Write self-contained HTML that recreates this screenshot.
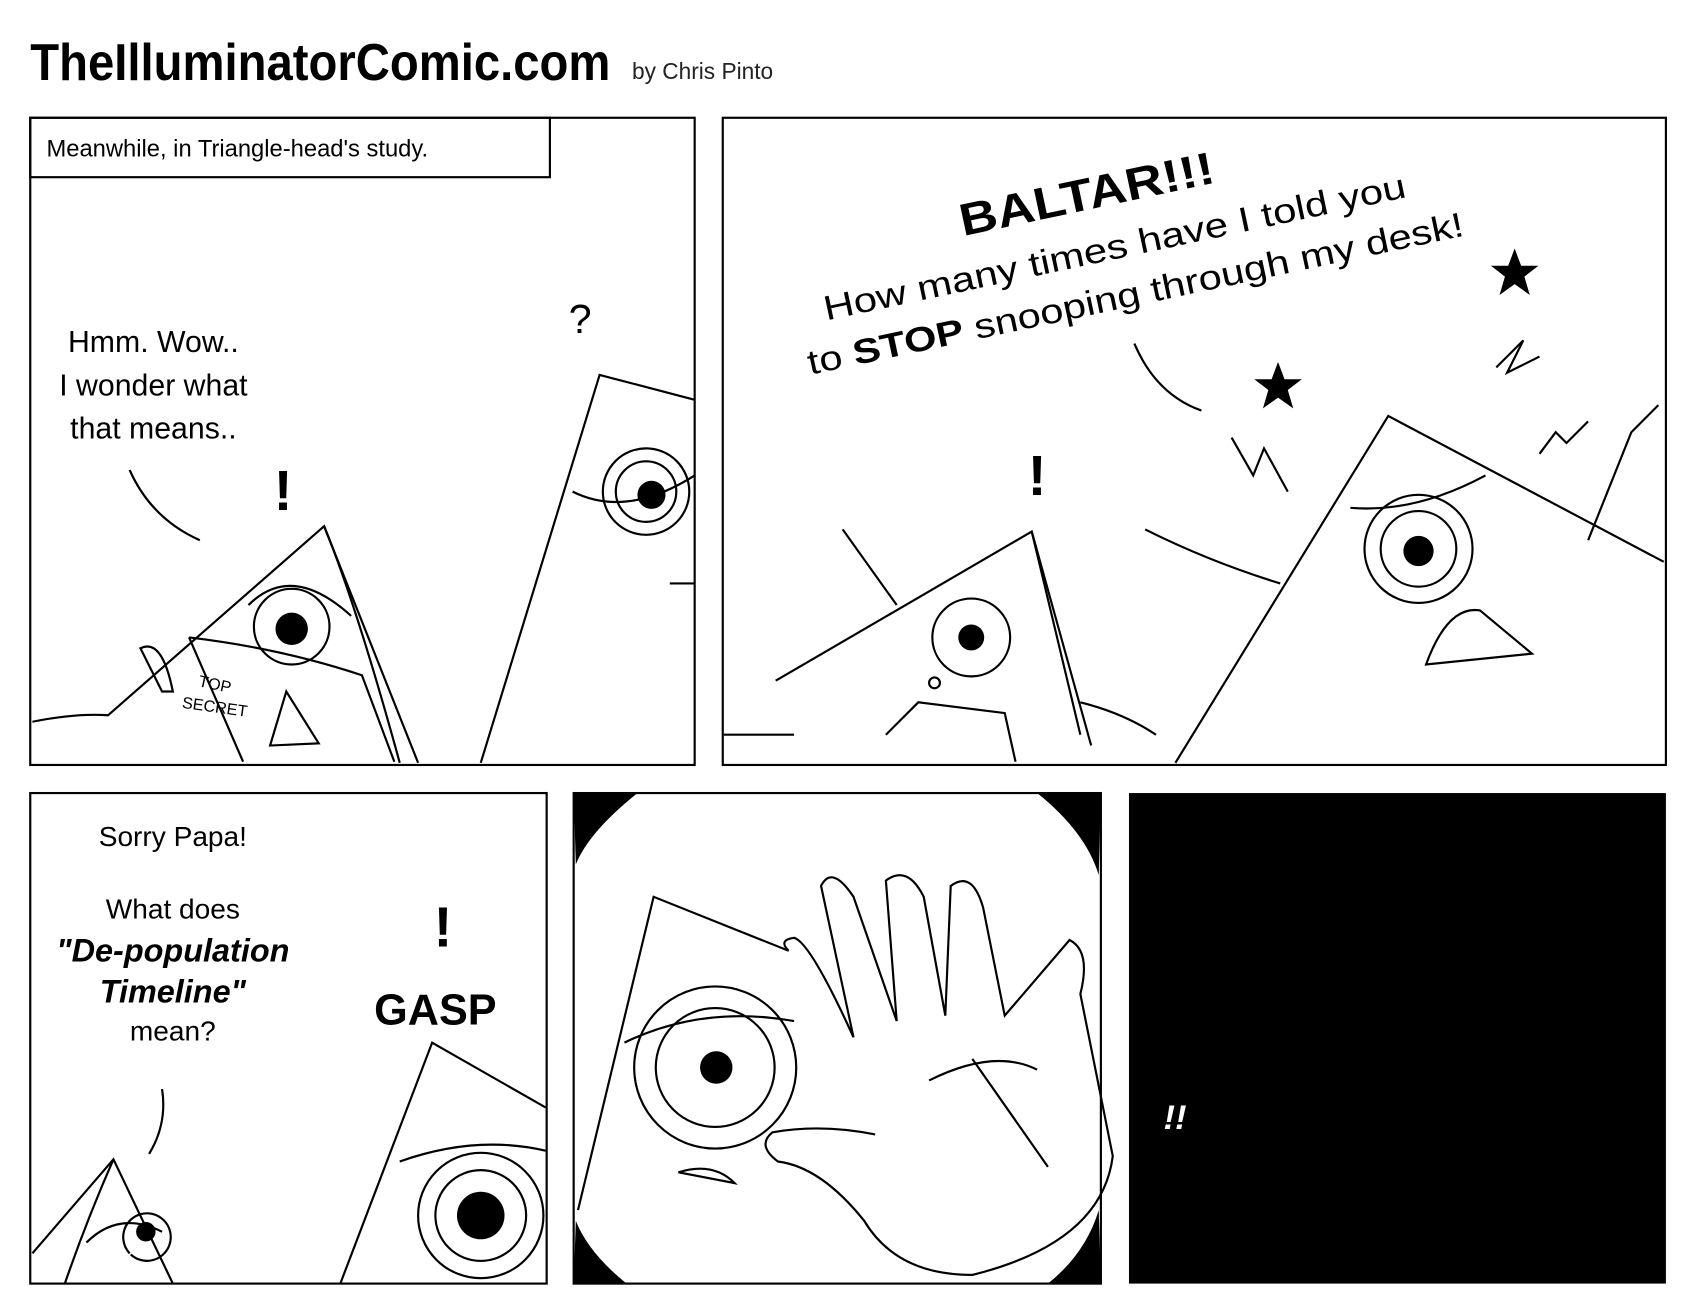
<!DOCTYPE html>
<html><head><meta charset="utf-8"><style>
html,body{margin:0;padding:0;background:#fff;width:1694px;height:1316px;overflow:hidden}
svg{display:block}
text{font-family:"Liberation Sans",sans-serif}
</style></head><body>
<svg width="1694" height="1316" viewBox="0 0 1568 1218" preserveAspectRatio="none" xmlns="http://www.w3.org/2000/svg">
<rect width="1568" height="1218" fill="#fff"/>
<text x="28" y="74" font-size="48" font-weight="bold" textLength="537" lengthAdjust="spacingAndGlyphs" fill="#000">TheIlluminatorComic.com</text>
<text x="585" y="73" font-size="21" fill="#222">by Chris Pinto</text>

<g fill="none" stroke="#000" stroke-width="2">
<rect x="28" y="109" width="615" height="599"/>
<rect x="28" y="109" width="481" height="55"/>
<path d="M120 435 Q140 480 185 500"/>
<path d="M30 668 Q70 660 100 662 L300 487 L387 706"/>
<path d="M300 487 Q330 560 370 706"/>
<path d="M445 706 L555 347 L643 370"/>
<path d="M530 455 Q580 480 643 440"/>
<circle cx="270" cy="580" r="35"/>
<circle cx="598" cy="455" r="40"/><circle cx="598" cy="455" r="28"/>
<path d="M230 560 Q270 520 325 570"/>
<path d="M175 590 L225 705 M175 590 Q260 600 335 625 L365 705"/>
<path d="M265 640 L250 690 L295 688 Z"/>
<path d="M620 540 L643 540"/>
<path d="M130 600 Q150 590 160 640 L150 640 Z"/>
<rect x="669" y="109" width="873" height="599"/>
<path d="M1050 318 Q1070 365 1112 380"/>
<path d="M1088 706 L1285 385 L1540 520"/>
<path d="M718 630 L955 492 L1000 680"/>
<path d="M955 492 Q985 600 1010 690"/>
<path d="M670 680 L735 680"/>
<circle cx="899" cy="590" r="36"/>
<circle cx="1313" cy="508" r="50"/><circle cx="1313" cy="508" r="35"/>
<path d="M1250 470 Q1310 475 1375 440"/>
<path d="M1320 615 Q1340 560 1370 565 L1418 605 Z"/>
<path d="M1060 490 Q1120 520 1185 540"/>
<path d="M1470 500 L1510 400 L1535 375"/>
<path d="M780 490 L830 560"/>
<path d="M820 680 L850 650 L930 660 L940 705"/>
<path d="M1000 650 Q1040 660 1070 680"/>
<path d="M1140 405 L1160 440 L1170 415 L1192 455"/>
<path d="M1385 340 L1410 315 L1395 345 L1425 330"/>
<path d="M1425 420 L1440 400 L1450 410 L1470 390"/>
<circle cx="865" cy="632" r="5"/>
<rect x="28" y="734" width="478" height="454"/>
<path d="M150 1008 Q155 1040 138 1068"/>
<path d="M30 1160 L105 1073 L160 1188"/>
<path d="M105 1073 Q80 1130 60 1188"/>
<path d="M80 1150 Q110 1120 150 1140 M120 1160 A22 22 0 1 1 121 1161"/>
<path d="M315 1188 L400 965 L505 1025"/>
<path d="M370 1075 Q440 1050 505 1065"/>
<circle cx="445" cy="1125" r="58"/><circle cx="445" cy="1125" r="42"/>
<rect x="531" y="734" width="488" height="454"/>
<path d="M535 1120 L605 830 L730 880"/>
<circle cx="662" cy="988" r="75"/><circle cx="662" cy="988" r="55"/>
<path d="M578 965 Q650 930 735 945"/>
<path d="M628 1085 Q660 1075 680 1095 Z"/>
<path d="M730 880 Q720 870 735 868 Q750 872 790 960 L760 820 Q770 800 790 830 L830 945 L820 815 Q840 800 855 830 L875 940 L880 820 Q900 805 910 840 L930 940 L990 870 Q1010 880 1000 920 L1030 1070 Q1020 1150 900 1180 Q830 1180 800 1130 Q760 1080 720 1075 Q700 1060 715 1048 Q760 1040 810 1050"/>
<path d="M860 1000 Q920 970 960 990 M900 980 L970 1080"/>
</g>
<g fill="#000">
<path d="M531 734 L590 734 Q545 770 533 800 Z"/>
<path d="M1019 734 L960 734 Q1005 770 1017 810 Z"/>
<path d="M531 1188 L580 1188 Q545 1160 533 1130 Z"/>
<path d="M1019 1188 L970 1188 Q1005 1160 1017 1120 Z"/>
<circle cx="270" cy="582" r="15"/><circle cx="603" cy="458" r="13"/>
<circle cx="899" cy="590" r="12"/><circle cx="1313" cy="510" r="14"/>
<circle cx="135" cy="1140" r="9"/><circle cx="445" cy="1125" r="22"/>
<circle cx="663" cy="988" r="15"/>
<rect x="1045" y="734" width="497" height="454"/>
<path d="M1183 335 l6 16 h16 l-13 10 5 17 -14 -10 -14 10 5 -17 -13 -10 h16z"/>
<path d="M1402 230 l6 16 h16 l-13 10 5 17 -14 -10 -14 10 5 -17 -13 -10 h16z"/>
</g>
<text x="43" y="145" font-size="22" fill="#000">Meanwhile, in Triangle-head's study.</text>
<g font-size="28" fill="#000" text-anchor="middle">
<text x="142" y="326">Hmm. Wow..</text>
<text x="142" y="366">I wonder what</text>
<text x="142" y="406">that means..</text>
<text x="537" y="308" font-size="38">?</text>
<text x="262" y="472" font-size="52" font-weight="bold">!</text>
<text x="960" y="458" font-size="52" font-weight="bold">!</text>
<text x="410" y="876" font-size="52" font-weight="bold">!</text>
</g>
<g transform="translate(0,-25) rotate(-12 1010 200)" fill="#000" font-size="32">
<text x="885" y="218" font-size="42" font-weight="bold" textLength="240" lengthAdjust="spacingAndGlyphs">BALTAR!!!</text>
<text x="745" y="268" textLength="550" lengthAdjust="spacingAndGlyphs">How many times have I told you</text>
<text x="720" y="314" textLength="620" lengthAdjust="spacingAndGlyphs">to <tspan font-weight="bold">STOP</tspan> snooping through my desk!</text>
</g>
<g fill="#000" font-size="26" text-anchor="middle">
<text x="160" y="783">Sorry Papa!</text>
<text x="160" y="850">What does</text>
<text x="160" y="890" font-size="30" font-weight="bold" font-style="italic">"De-population</text>
<text x="160" y="928" font-size="30" font-weight="bold" font-style="italic">Timeline"</text>
<text x="160" y="963">mean?</text>
<text x="403" y="948" font-size="40" font-weight="bold">GASP</text>
</g>
<text x="1077" y="1045" font-size="32" font-weight="bold" font-style="italic" fill="#fff">!!</text>
<text x="183" y="635" font-size="15" fill="#000" transform="rotate(12 183 635)">TOP</text>
<text x="168" y="655" font-size="15" fill="#000" transform="rotate(8 168 655)">SECRET</text>
</svg>
</body></html>
